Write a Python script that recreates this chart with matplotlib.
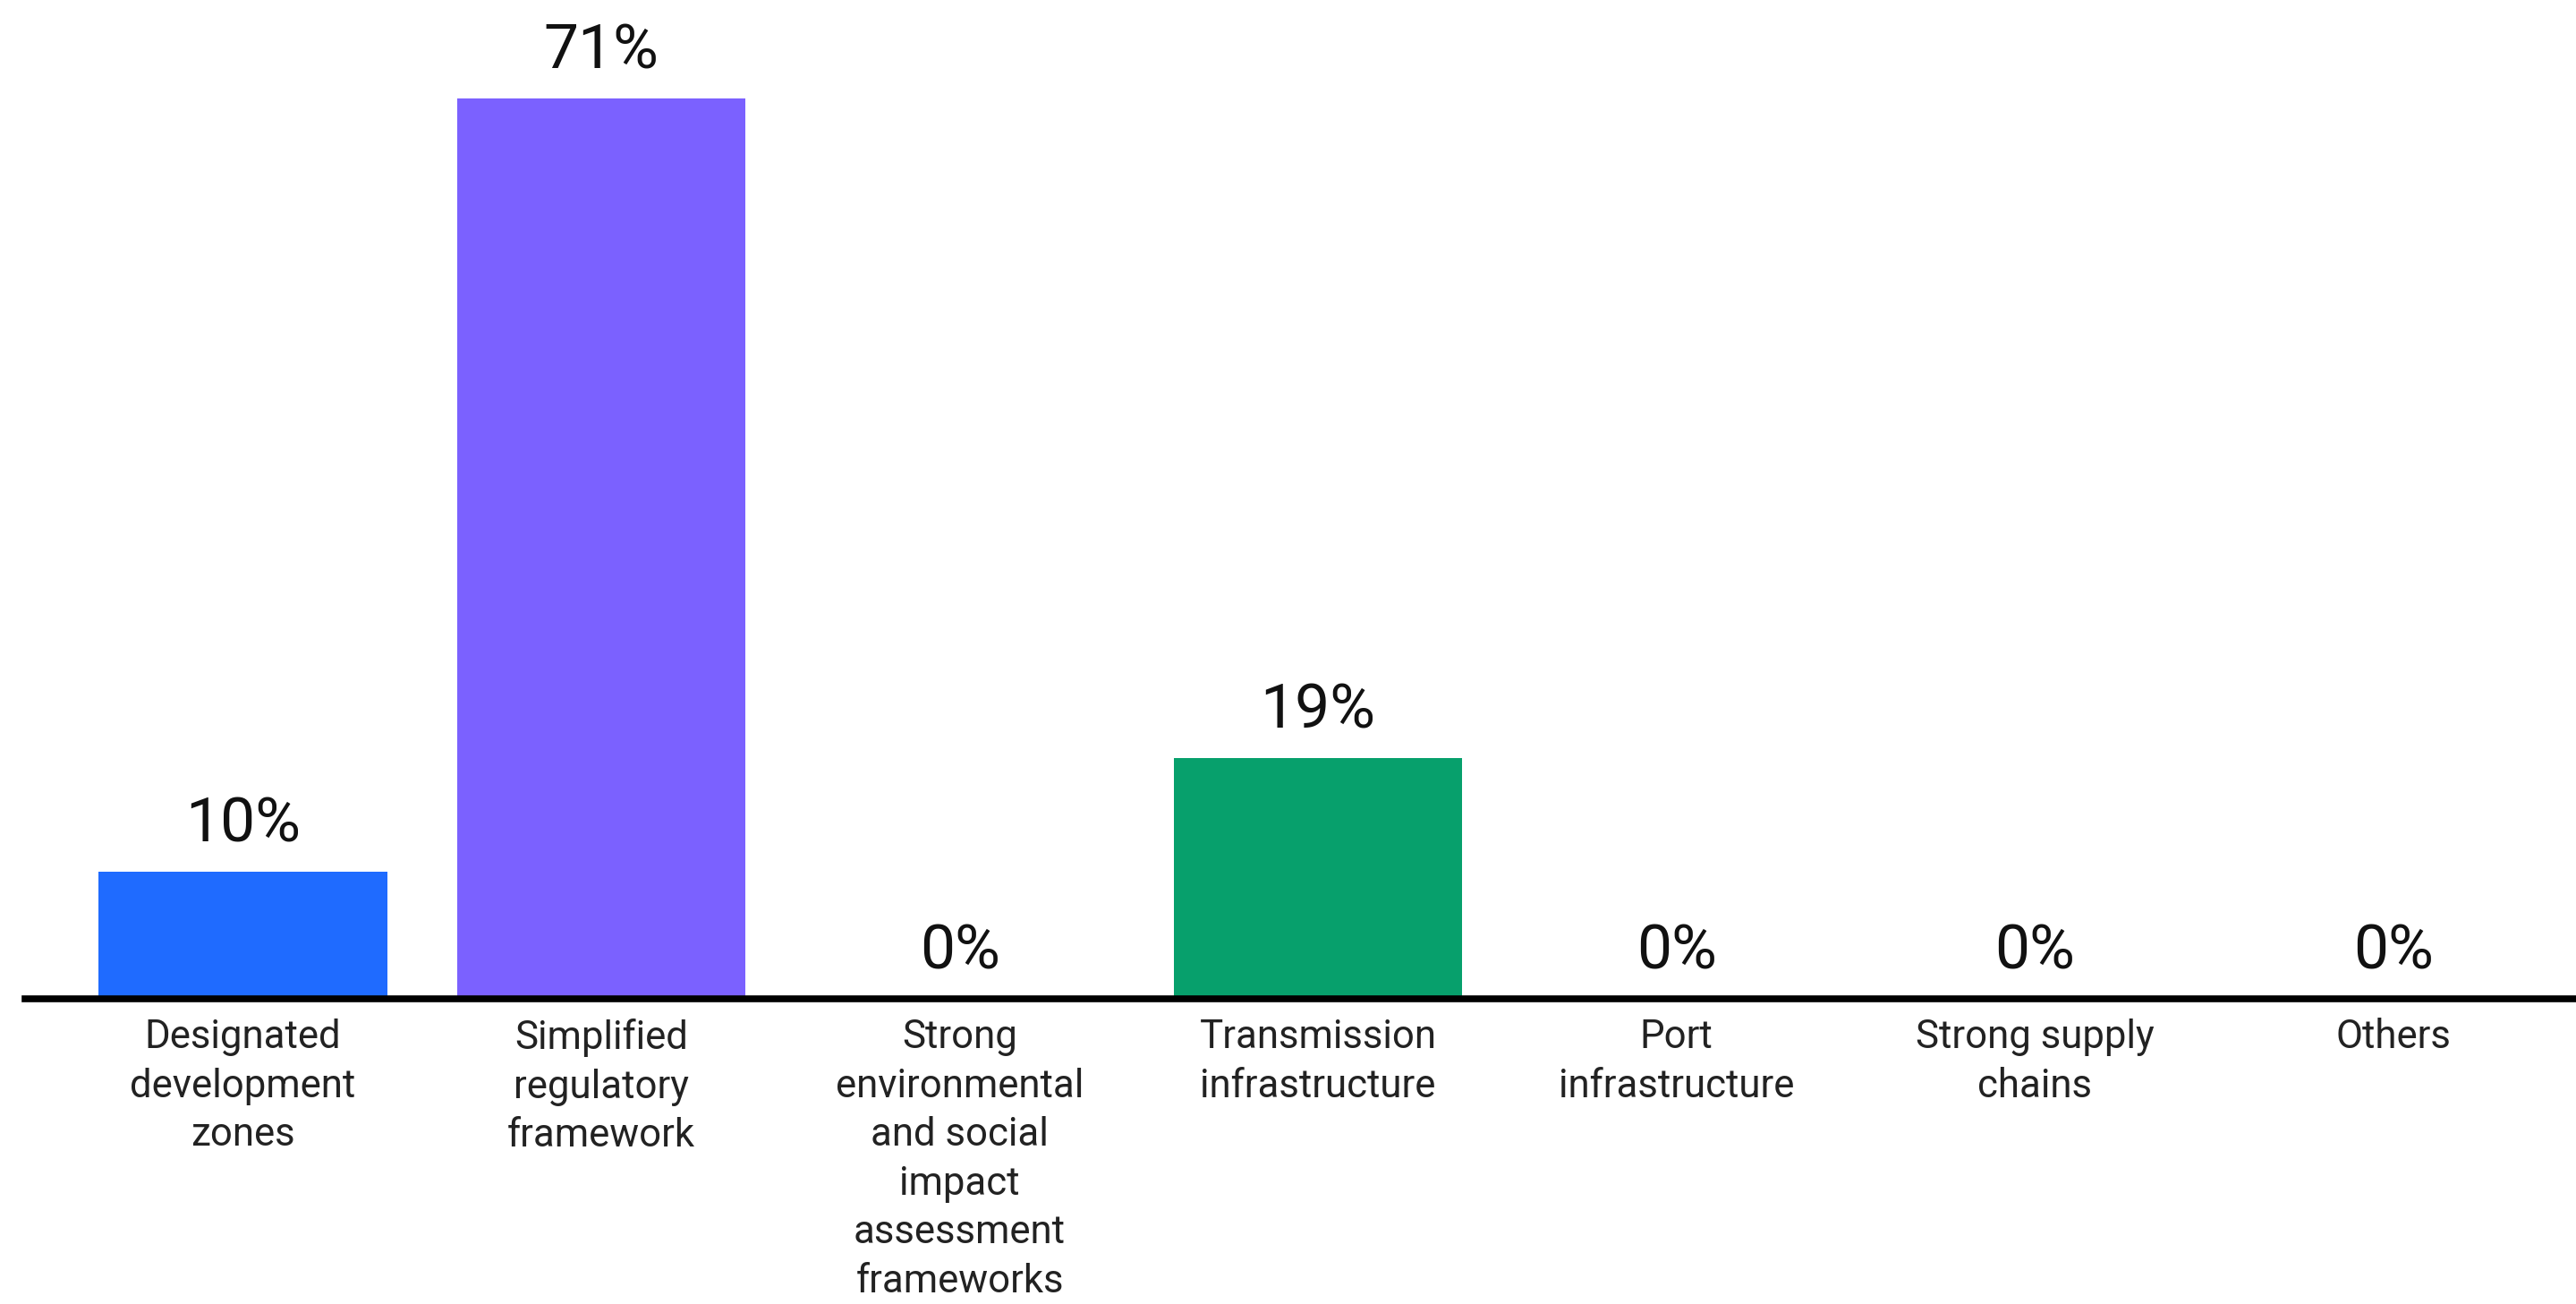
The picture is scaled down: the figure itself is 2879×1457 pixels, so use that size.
import matplotlib
matplotlib.use("Agg")
import matplotlib.pyplot as plt

categories = [
    "Designated\ndevelopment\nzones",
    "Simplified\nregulatory\nframework",
    "Strong\nenvironmental\nand social\nimpact\nassessment\nframeworks",
    "Transmission\ninfrastructure",
    "Port\ninfrastructure",
    "Strong supply\nchains",
    "Others",
]
values = [10, 71, 0, 19, 0, 0, 0]
colors = ["#1F6BFF", "#7B61FF", "#7B61FF", "#07A06C", "#07A06C", "#07A06C", "#07A06C"]

W, H = 2879, 1457
fig = plt.figure(figsize=(W / 100, H / 100), dpi=100)
ax = fig.add_axes([28 / W, (H - 1116) / H, 1 - 28 / W, 0.7296])

x = list(range(len(categories)))
bars = ax.bar(x, values, width=0.805, color=colors, zorder=1)
ax.set_xlim(-0.608, 6.51)
ax.set_ylim(0, 75)

font = "Roboto"
for xi, v in zip(x, values):
    ax.annotate(f"{v}%", (xi, v), xytext=(0, 14), textcoords="offset points",
                ha="center", va="bottom", fontsize=50, family=font, color="#111111")

ax.set_xticks(x)
ax.set_xticklabels(categories, fontsize=31.5, family=font, color="#222222",
                   linespacing=1.38, va="top")
ax.tick_params(axis="x", length=0, pad=16)
ax.set_yticks([])
for s in ["top", "left", "right"]:
    ax.spines[s].set_visible(False)
ax.spines["bottom"].set_linewidth(5.5)
ax.spines["bottom"].set_color("black")
ax.spines["bottom"].set_zorder(3)

fig.savefig("out.png", dpi=100, facecolor="white")
